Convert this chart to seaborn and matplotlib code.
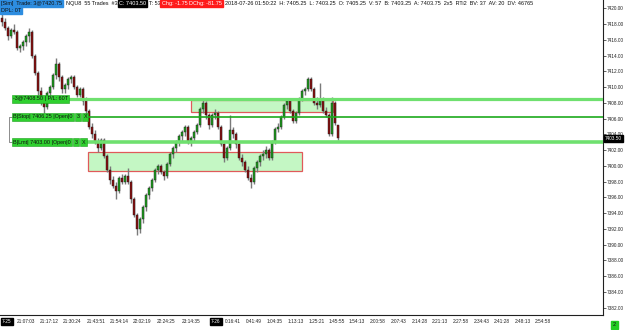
import matplotlib
matplotlib.use("Agg")
import matplotlib.pyplot as plt
import matplotlib.transforms as mtransforms
from matplotlib import font_manager
from matplotlib.patches import Rectangle
import numpy as np
import pandas as pd
import seaborn as sns

sns.set_theme(style="white")
plt.rcParams['font.family'] = ['Liberation Sans', 'DejaVu Sans']
_names = {f.name for f in font_manager.fontManager.ttflist}
NARROW = ['Liberation Sans Narrow', 'Liberation Sans', 'DejaVu Sans'] \
    if 'Liberation Sans Narrow' in _names else ['Liberation Sans', 'DejaVu Sans']
NARROW_SIZE = 3.9 if 'Liberation Sans Narrow' in _names else 3.4

# ---------------- data ----------------
opens = [7418.75, 7418.25, 7417.5, 7416.5, 7417.25, 7417.0, 7415.0, 7415.25, 7415.75, 7416.5,
         7417.0, 7414.0, 7411.75, 7409.5, 7408.25, 7407.5, 7409.25, 7410.0, 7411.5, 7413.0,
         7411.25, 7409.75, 7410.25, 7411.0, 7411.25, 7410.0, 7409.0, 7409.75, 7408.25, 7407.0,
         7405.0, 7404.0, 7403.0, 7402.25, 7403.25, 7401.25, 7399.5, 7398.25, 7397.5, 7396.75,
         7398.5, 7398.0, 7398.75, 7398.0, 7395.75, 7393.75, 7392.0, 7393.25, 7394.75, 7396.25,
         7397.25, 7398.25, 7399.5, 7400.0, 7399.25, 7398.75, 7400.25, 7401.5, 7402.25, 7403.0,
         7403.75, 7404.25, 7405.0, 7403.0, 7403.5, 7404.25, 7405.25, 7407.25, 7408.0, 7406.5,
         7405.25, 7406.5, 7406.75, 7405.0, 7402.75, 7401.0, 7402.25, 7404.5, 7404.0, 7402.75,
         7401.0, 7400.5, 7399.5, 7398.5, 7398.0, 7399.75, 7400.5, 7401.25, 7401.5, 7402.0,
         7401.0, 7403.0, 7404.75, 7405.0, 7406.25, 7407.75, 7408.25, 7407.0, 7405.75, 7406.75,
         7408.5, 7409.5, 7409.75, 7411.0, 7409.75, 7408.0, 7407.75, 7408.5, 7407.0, 7406.5,
         7404.0, 7408.0, 7405.25]
highs = [7419.5, 7418.75, 7417.75, 7417.5, 7418.0, 7417.25, 7415.5, 7416.0, 7416.75, 7417.5,
         7417.25, 7414.25, 7412.0, 7410.0, 7408.75, 7409.5, 7410.25, 7411.75, 7413.75, 7413.25,
         7411.5, 7410.5, 7411.25, 7411.5, 7411.5, 7410.25, 7410.0, 7410.0, 7408.75, 7407.25,
         7405.5, 7404.5, 7403.5, 7403.5, 7403.5, 7401.5, 7400.0, 7398.75, 7398.0, 7398.75,
         7399.0, 7399.0, 7399.75, 7398.25, 7396.0, 7394.0, 7393.5, 7395.0, 7396.5, 7397.5,
         7398.5, 7399.75, 7400.25, 7400.25, 7399.5, 7400.5, 7401.75, 7402.5, 7403.25, 7404.0,
         7404.5, 7405.25, 7405.25, 7403.75, 7404.5, 7405.5, 7407.5, 7408.5, 7408.25, 7406.75,
         7406.75, 7407.25, 7407.0, 7405.25, 7403.0, 7402.5, 7406.5, 7405.0, 7404.25, 7403.0,
         7401.5, 7400.75, 7400.0, 7399.0, 7400.0, 7400.75, 7401.5, 7402.0, 7402.5, 7402.25,
         7403.25, 7405.0, 7405.5, 7406.5, 7408.0, 7408.5, 7408.5, 7407.25, 7407.0, 7408.75,
         7409.75, 7410.0, 7411.25, 7411.25, 7410.0, 7408.75, 7410.5, 7408.75, 7407.5, 7406.75,
         7408.75, 7408.25, 7405.25]
lows = [7417.75, 7417.25, 7416.0, 7416.25, 7416.75, 7414.75, 7414.5, 7414.75, 7415.25, 7415.75,
        7413.75, 7411.5, 7409.0, 7407.75, 7406.75, 7407.25, 7408.75, 7409.75, 7411.0, 7410.75,
        7409.25, 7409.25, 7409.75, 7410.5, 7409.75, 7408.75, 7408.75, 7407.75, 7406.5, 7404.75,
        7403.5, 7402.75, 7401.75, 7402.0, 7401.0, 7399.25, 7397.75, 7397.25, 7395.75, 7396.5,
        7397.75, 7397.75, 7397.75, 7395.25, 7393.5, 7391.25, 7391.5, 7392.75, 7394.25, 7395.75,
        7396.75, 7398.0, 7399.0, 7399.0, 7398.25, 7398.5, 7400.0, 7401.0, 7401.75, 7402.5,
        7403.0, 7403.75, 7402.75, 7402.5, 7403.0, 7404.0, 7405.0, 7406.75, 7406.0, 7404.75,
        7405.0, 7406.0, 7404.75, 7402.5, 7400.5, 7400.75, 7402.0, 7403.5, 7402.25, 7400.75,
        7400.0, 7399.25, 7398.25, 7397.25, 7397.75, 7399.25, 7400.0, 7400.75, 7401.0, 7400.75,
        7400.75, 7402.75, 7404.25, 7404.75, 7406.0, 7407.25, 7406.75, 7405.5, 7405.5, 7406.5,
        7408.25, 7409.0, 7409.5, 7409.5, 7407.75, 7407.25, 7407.5, 7406.75, 7406.25, 7403.75,
        7403.75, 7405.25, 7403.25]
closes = [7418.25, 7417.5, 7416.5, 7417.25, 7417.0, 7415.0, 7415.25, 7415.75, 7416.5, 7417.0,
          7414.0, 7411.75, 7409.5, 7408.25, 7407.5, 7409.25, 7410.0, 7411.5, 7413.0, 7411.25,
          7409.75, 7410.25, 7411.0, 7411.25, 7410.0, 7409.0, 7409.75, 7408.25, 7407.0, 7405.0,
          7404.0, 7403.0, 7402.25, 7403.25, 7401.25, 7399.5, 7398.25, 7397.5, 7396.75, 7398.5,
          7398.0, 7398.75, 7398.0, 7395.75, 7393.75, 7392.0, 7393.25, 7394.75, 7396.25, 7397.25,
          7398.25, 7399.5, 7400.0, 7399.25, 7398.75, 7400.25, 7401.5, 7402.25, 7403.0, 7403.75,
          7404.25, 7405.0, 7403.0, 7403.5, 7404.25, 7405.25, 7407.25, 7408.0, 7406.5, 7405.25,
          7406.5, 7406.75, 7405.0, 7402.75, 7401.0, 7402.25, 7404.5, 7404.0, 7402.75, 7401.0,
          7400.5, 7399.5, 7398.5, 7398.0, 7399.75, 7400.5, 7401.25, 7401.5, 7402.0, 7401.0,
          7403.0, 7404.75, 7405.0, 7406.25, 7407.75, 7408.25, 7407.0, 7405.75, 7406.75, 7408.5,
          7409.5, 7409.75, 7411.0, 7409.75, 7408.0, 7407.75, 7408.5, 7407.0, 7406.5, 7404.0,
          7408.0, 7405.5, 7403.5]

tick_bars = [1.6, 8, 15.7, 23.3, 31.3, 39, 46.7, 54.7, 63, 71.3, 77, 84, 91, 98, 105, 111.7,
             118.3, 125.3, 132.3, 139.3, 146, 153, 160, 166.7, 173.7, 180.3]
tick_labels = ["7-25", "21:07:03", "21:17:12", "21:30:24", "21:43:51", "21:54:14", "22:02:19",
               "22:24:25", "23:14:35", "7-26", "0:16:41", "0:41:49", "1:04:35", "1:13:13",
               "1:25:21", "1:45:55", "1:54:13", "2:00:58", "2:07:43", "2:14:28", "2:21:13",
               "2:27:58", "2:34:43", "2:41:28", "2:48:13", "2:54:58"]

y_ticks = list(range(7382, 7421, 2))

# zones: (bar_start, bar_end), (price_low, price_high)
zone_bars = [(28.7, 100.0), (63.0, 110.3)]
zone_prices = [(7399.35, 7401.75), (7406.9, 7408.4)]

target_price = 7408.50
stop_price = 7406.25
limit_price = 7403.00
last_price = 7403.50

header_segments = ["[Sim]  Trade: 3@7420.75", "NQU8  55 Trades  #3", "C: 7403.50", "T: 53",
                   "Chg: -1.75", "DChg: -81.75",
                   "2018-07-26 01:50:22  H: 7405.25  L: 7403.25  O: 7405.25  V: 57  B: 7403.25  "
                   "A: 7403.75  2x5  RTi2  BV: 37  AV: 20  DV: 46765"]

df = pd.DataFrame({"bar": np.arange(len(closes)), "open": opens, "high": highs,
                   "low": lows, "close": closes})

# ---------------- figure ----------------
W, H = 625, 330
fig = plt.figure(figsize=(W / 100, H / 100), dpi=100)
fig.patch.set_facecolor("white")
ax = fig.add_axes([0, 15 / H, 603 / W, 315 / H])
ax.set_facecolor("white")
renderer = fig.canvas.get_renderer()


def px2bar(px):
    return (px - 2) / 3.0


ax.set_xlim(px2bar(0), px2bar(603))
ax.set_ylim(7381.05, 7421.08)

up = df["close"] >= df["open"]
pal = {"up": "#1f9e1f", "down": "#8b0f0f"}

# zones
for (b0, b1), (p0, p1) in zip(zone_bars, zone_prices):
    ax.add_patch(Rectangle((b0, p0), b1 - b0, p1 - p0, facecolor="#c4f7c4",
                           edgecolor="#e05a5a", lw=0.9, zorder=1))

# wicks
ax.vlines(df["bar"], df["low"], df["high"], color="#7a7a7a", lw=1.0, zorder=2)
# bodies
body_h = (df["close"] - df["open"]).abs().clip(lower=0.12)
body_b = df[["open", "close"]].min(axis=1)
ax.bar(df["bar"][up], body_h[up], bottom=body_b[up], width=0.66,
       color=pal["up"], edgecolor="#1a1a1a", lw=0.3, zorder=3)
ax.bar(df["bar"][~up], body_h[~up], bottom=body_b[~up], width=0.66,
       color=pal["down"], edgecolor="#1a1a1a", lw=0.3, zorder=3)

# order lines
xmax = px2bar(603)
ax.hlines(target_price, px2bar(66), xmax, color="#6fe06f", lw=2.3, zorder=4)
ax.hlines(stop_price, px2bar(84), xmax, color="#1daa1d", lw=1.2, zorder=4)
ax.hlines(limit_price, px2bar(84), xmax, color="#6fe06f", lw=2.6, zorder=4)

box_kw = dict(boxstyle="square,pad=0.25", facecolor="#2fd02f", edgecolor="#1aa01a", lw=0.4)


def chain_ax(x_px, price, parts, size=3.9, gap=2.0):
    """place label parts one after another along a price level"""
    x = x_px
    for txt in parts:
        t = ax.text(px2bar(x), price, txt, fontsize=size, va="center", ha="left",
                    color="#101010", zorder=6, bbox=box_kw)
        bb = t.get_window_extent(renderer)
        x += bb.width + gap + 2


chain_ax(13, target_price, ["-3@7408.50 | P/L: 60T"])
chain_ax(13, stop_price, ["B|Stop| 7406.25 |Open|0", "3", "X"])
chain_ax(13, limit_price, ["B|Lmt| 7403.00 |Open|0", "3", "X"])
# connector bracket
ax.plot([px2bar(12), px2bar(9), px2bar(9), px2bar(12)],
        [stop_price, stop_price, limit_price, limit_price], color="#8c8c8c", lw=0.7, zorder=5)

# axes styling
for s in ["top", "left"]:
    ax.spines[s].set_visible(False)
for s in ["right", "bottom"]:
    ax.spines[s].set_color("#202020")
    ax.spines[s].set_linewidth(0.8)

ax.yaxis.tick_right()
ax.set_yticks(y_ticks)
ax.set_yticklabels([f"{v:.2f}" for v in y_ticks], family=NARROW)
ax.tick_params(axis="y", right=True, length=2, width=0.5, pad=1, labelsize=NARROW_SIZE,
               colors="#202020")
ax.set_xticks(tick_bars)
ax.set_xticklabels(tick_labels, family=NARROW)
ax.tick_params(axis="x", bottom=False, length=0, pad=3, labelsize=NARROW_SIZE, colors="#202020")
for lab in ax.get_xticklabels():
    if "-" in lab.get_text():
        lab.set_color("white")
        lab.set_bbox(dict(boxstyle="square,pad=0.2", facecolor="black", edgecolor="black"))
ax.grid(False)

# current price marker on axis
trans = mtransforms.blended_transform_factory(ax.transAxes, ax.transData)
ax.text(1.003, last_price, f"{last_price:.2f}", transform=trans, fontsize=NARROW_SIZE,
        family=NARROW, color="white", va="center", ha="left", zorder=7, clip_on=False,
        bbox=dict(boxstyle="square,pad=0.2", facecolor="black", edgecolor="black"))

# header
blue = dict(boxstyle="square,pad=0.2", facecolor="#2d8de0", edgecolor="#2d8de0")
blk = dict(boxstyle="square,pad=0.2", facecolor="black", edgecolor="black")
red = dict(boxstyle="square,pad=0.2", facecolor="#ff1a1a", edgecolor="#ff1a1a")
styles = [("#101010", blue), ("#101010", None), ("white", blk), ("#101010", None),
          ("white", red), ("white", red), ("#101010", None)]
gaps = [3, 1, 2, 1, 1, 2, 0]
x = 1.0
for seg, (col, bb), g in zip(header_segments, styles, gaps):
    t = fig.text(x / W, 1 - 3.5 / H, seg, fontsize=4.0, va="center", ha="left", color=col,
                 bbox=bb)
    x += t.get_window_extent(renderer).width + g + (1 if bb else 0)
fig.text(1 / W, 1 - 10 / H, "DPL: 0T", fontsize=4.0, va="center", ha="left",
         color="#101010", bbox=blue)

# bottom-right indicator
fig.text(613 / W, 1 - 325 / H, "2", fontsize=4.0, color="#101010", va="center", ha="left",
         bbox=dict(boxstyle="square,pad=0.3", facecolor="#22cc22", edgecolor="#22cc22"))

fig.savefig("out.png", dpi=100, facecolor="white")
